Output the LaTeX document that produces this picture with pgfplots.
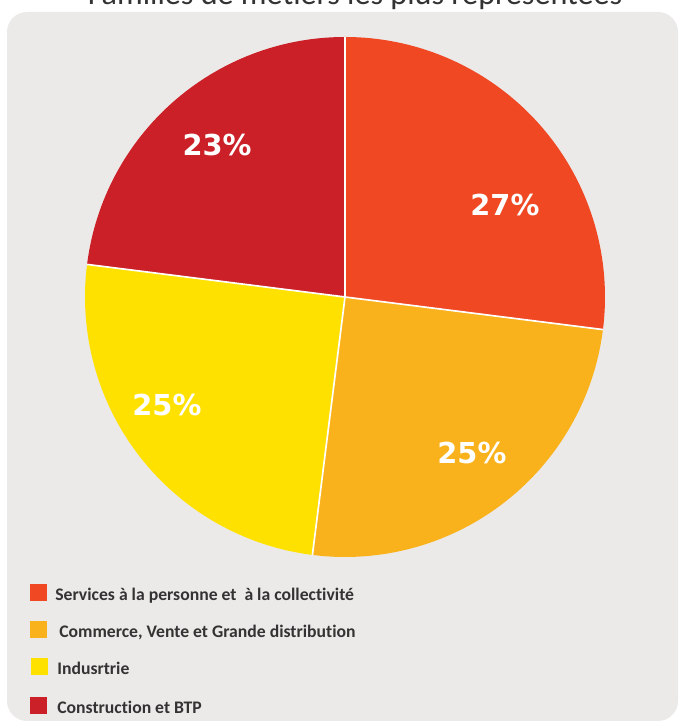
\documentclass[border=0pt]{standalone}
\usepackage{pgfplots}
\usepackage{pgfplotstable}
\pgfplotsset{compat=1.18}
\usepackage{fontspec}
\setmainfont{Carlito}[Ligatures={NoCommon}]
\newfontfamily\labelfont{DejaVu Sans}

\definecolor{bgc}{HTML}{ECEAE8}
\definecolor{cA}{HTML}{EF4823}
\definecolor{cB}{HTML}{F9B21B}
\definecolor{cC}{HTML}{FFE100}
\definecolor{cD}{HTML}{CB2027}
\definecolor{txt}{HTML}{333333}

% share (%), label position in axis units, colour
\pgfplotstableread{
value lx    ly     color
27    0.615  0.354 cA
25    0.488 -0.600 cB
25   -0.685 -0.415 cC
23   -0.492  0.585 cD
}\piedata

\begin{document}
\begin{tikzpicture}[x=0.6pt,y=0.6pt]
\clip (0,0) rectangle (681,723);
\fill[bgc] (7,2) [rounded corners=12pt] rectangle (678,711);
\node[anchor=base, font=\fontsize{19.3}{22}\selectfont, text=txt] at (355,718) {Familles de métiers les plus représentées};

\begin{axis}[
  at={(207pt,255.6pt)}, anchor=center,
  width=312pt, height=312pt, scale only axis,
  xmin=-1, xmax=1, ymin=-1, ymax=1,
  hide axis, clip=false,
  /pgf/number format/assume math mode=true,
]
\def\angstart{90}
\pgfplotsforeachungrouped \i in {0,...,3}{
  \pgfplotstablegetelem{\i}{value}\of\piedata \let\v\pgfplotsretval
  \pgfplotstablegetelem{\i}{color}\of\piedata \let\c\pgfplotsretval
  \pgfmathsetmacro\angend{\angstart-3.6*\v}
  \edef\temp{\noexpand\fill[\c] (axis cs:0,0) -- (axis cs:{cos(\angstart)},{sin(\angstart)}) arc[start angle=\angstart, end angle=\angend, radius=1] -- cycle;}
  \temp
  \let\angstart\angend
}
\def\angstart{90}
\pgfplotsforeachungrouped \i in {0,...,3}{
  \pgfplotstablegetelem{\i}{value}\of\piedata \let\v\pgfplotsretval
  \edef\temp{\noexpand\draw[white, line width=1pt] (axis cs:0,0) -- (axis cs:{cos(\angstart)},{sin(\angstart)});}
  \temp
  \pgfmathsetmacro\angend{\angstart-3.6*\v}
  \let\angstart\angend
}
\addplot[draw=none, mark=none, nodes near coords={\pgfmathprintnumber{\pgfplotspointmeta}\%},
  nodes near coords align=center, point meta=explicit,
  every node near coord/.append style={font=\labelfont\bfseries\fontsize{17.3}{19}\selectfont, text=white}]
  table[x=lx, y=ly, meta=value] {\piedata};
\end{axis}

\begin{scope}[font=\bfseries\fontsize{10.6}{13}\selectfont, text=txt]
\fill[cA] (30,121.5) rectangle (47,138.5);
\node[anchor=base west, inner sep=0] at (55,122.5) {Services à la personne et\ \ à la collectivité};
\fill[cB] (30,84.5) rectangle (47,101.5);
\node[anchor=base west, inner sep=0] at (59,85.5) {Commerce, Vente et Grande distribution};
\fill[cC] (31,47.5) rectangle (48,64.5);
\node[anchor=base west, inner sep=0] at (57,48.5) {Indusrtrie};
\fill[cD] (30,8.5) rectangle (47,25.5);
\node[anchor=base west, inner sep=0] at (57,9.5) {Construction et BTP};
\end{scope}
\end{tikzpicture}
\end{document}
